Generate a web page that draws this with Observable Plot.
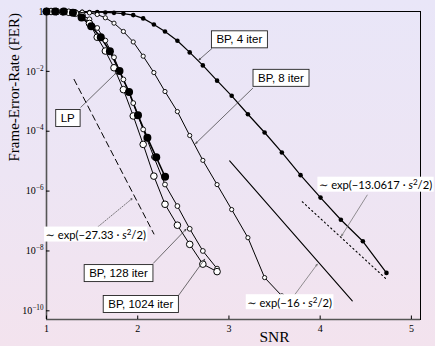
<!DOCTYPE html>
<html>
<head>
<meta charset="utf-8">
<script src="https://cdn.jsdelivr.net/npm/d3@7"></script>
<script src="https://cdn.jsdelivr.net/npm/@observablehq/plot@0.6"></script>
<style>
  html, body { margin:0; padding:0; }
  body { width:435px; height:346px; overflow:hidden;
    background: linear-gradient(180deg, #e9e6f8 0%, #ede5f4 50%, #f3e3ee 100%); }
  #chart svg { display:block; }
</style>
</head>
<body>
<div id="chart"></div>
<script>
// ---------- data (SNR, log10 of frame-error-rate) ----------
const snrBP = [1.0, 1.05, 1.11, 1.177, 1.244, 1.316, 1.391, 1.471, 1.556, 1.645, 1.74, 1.843, 1.951, 2.06, 2.177, 2.299, 2.435, 2.57, 2.714, 2.87, 3.03, 3.208, 3.391, 3.58, 3.785, 4.004, 4.227, 4.468, 4.727];
const snrLP = [1.0, 1.095, 1.19, 1.29, 1.385, 1.49, 1.595, 1.695, 1.8, 1.905, 2.003, 2.106, 2.203, 2.3];

const logFerLP     = [0, 0, 0, -0.04, -0.2, -0.49, -0.86, -1.33, -1.99, -2.69, -3.47, -4.22, -4.87, -5.52];
const logFerBP4    = [0, 0, 0, -0.002, -0.004, -0.007, -0.01, -0.015, -0.022, -0.032, -0.045, -0.07, -0.12, -0.23, -0.433, -0.667, -0.977, -1.367, -1.8, -2.31, -2.817, -3.433, -4.043, -4.71, -5.467, -6.217, -6.957, -7.677, -8.733];
const logFerBP8    = [0, 0, 0, -0.003, -0.006, -0.012, -0.022, -0.045, -0.1, -0.21, -0.39, -0.667, -1.017, -1.493, -2.04, -2.673, -3.343, -4.143, -4.973, -5.783, -6.617, -7.557, -8.89, -9.5];
const logFerBP128  = [0, 0, -0.003, -0.008, -0.02, -0.05, -0.12, -0.26, -0.55, -0.97, -1.53, -2.27, -3.06, -3.94, -4.86, -5.78, -6.5, -7.26, -8.0, -8.59];
const logFerBP1024 = [0, 0, -0.003, -0.01, -0.025, -0.06, -0.14, -0.4, -0.86, -1.32, -1.88, -2.61, -3.49, -4.44, -5.5, -6.44, -7.14, -7.78, -8.44, -8.69];

// asymptotic slope lines (end points)
const snrExp2733 = [1.302, 2.178];  const logExp2733 = [-2.267, -7.433];
const snrExp16   = [3.008, 4.352];  const logExp16   = [-4.99, -9.667];
const snrExp13   = [3.804, 4.735];  const logExp13   = [-6.357, -8.967];

const xTicks = [1, 2, 3, 4, 5];
const yTickExps = [0, -2, -4, -6, -8, -10];
const seriesLabels = ["BP, 4 iter", "BP, 8 iter", "LP", "BP, 128 iter", "BP, 1024 iter"];
const asymLabels = ["∼ exp(−27.33 · s²/2)", "∼ exp(−16 · s²/2)", "∼ exp(−13.0617 · s²/2)"];

// ---------- annotation placement (data coordinates) ----------
const boxPos = [
  {x: 3.114, y: -0.94,  x1: 2.811, y1: -1.243, x2: 2.671, y2: -1.617},
  {x: 3.57,  y: -2.227, x1: 3.26,  y1: -2.567, x2: 2.635, y2: -4.41},
  {x: 1.233, y: -3.567, x1: 1.376, y1: -3.2,   x2: 1.77,  y2: -2.033},
  {x: 1.789, y: -8.75,  x1: 2.172, y1: -8.41,  x2: 2.529, y2: -7.277},
  {x: 2.033, y: -9.783, x1: 2.452, y1: -9.467, x2: 2.734, y2: -8.277}
];
const asymPos = [
  {x: 1.54,  y: -7.483, x1: 1.521, y1: -7.3,   x2: 1.942, y2: -6.243},
  {x: 3.665, y: -9.743, x1: 3.712, y1: -9.5,   x2: 3.968, y2: -8.443},
  {x: 4.607, y: -5.817, x1: 4.516, y1: -6.133, x2: 4.234, y2: -7.5}
];

// ---------- build ----------
const P = (xs, ls) => xs.map((x, i) => ({x, y: Math.pow(10, ls[i])}));
const lp = P(snrLP, logFerLP), bp4 = P(snrBP, logFerBP4), bp8 = P(snrBP, logFerBP8),
      bp128 = P(snrBP, logFerBP128), bp1024 = P(snrBP, logFerBP1024);
const boxes = seriesLabels.map((t, i) => ({text: t, ...boxPos[i]}));
const asyms = asymLabels.map((t, i) => ({text: t, ...asymPos[i]}));
const E = v => Math.pow(10, v);
const yMin = E(-10.29);
const yTicks = yTickExps.map(E);

const plot = Plot.plot({
  width: 435, height: 346,
  marginLeft: 46, marginRight: 15, marginTop: 11, marginBottom: 27,
  style: {background: "transparent", fontFamily: "'Liberation Serif','Times New Roman',serif", color: "#000", overflow: "visible"},
  x: {domain: [1, 5.1]},
  y: {type: "log", domain: [yMin, 1]},
  marks: [
    Plot.frame({stroke: "#000", strokeWidth: 1}),
    Plot.ruleX([1], {stroke: "#555", strokeWidth: 1.6}),
    Plot.ruleY([yMin], {stroke: "#555", strokeWidth: 1.6}),
    Plot.axisY({ticks: yTicks, tickSize: 3.5, dx: 3.5, fill: "none", label: null}),
    Plot.axisY({ticks: yTicks, tickSize: 0, tickPadding: 3, fontSize: 10, label: null,
      tickFormat: d => d >= 1 ? "1" : "10^−" + Math.round(-Math.log10(d))}),
    Plot.axisX({ticks: xTicks, tickSize: 3.5, dy: -3.5, fill: "none", label: null}),
    Plot.axisX({ticks: xTicks, tickSize: 0, tickPadding: 5, fontSize: 10, label: null, tickFormat: d => String(d)}),

    // asymptote lines
    Plot.line(P(snrExp2733, logExp2733), {x: "x", y: "y", stroke: "#000", strokeWidth: 1, strokeDasharray: "6,4"}),
    Plot.line(P(snrExp16, logExp16), {x: "x", y: "y", stroke: "#000", strokeWidth: 1.1}),
    Plot.line(P(snrExp13, logExp13), {x: "x", y: "y", stroke: "#000", strokeWidth: 1.1, strokeDasharray: "1.3,3"}),

    // curves
    Plot.line(bp4, {x: "x", y: "y", stroke: "#000", strokeWidth: 1.2}),
    Plot.line(bp8, {x: "x", y: "y", stroke: "#000", strokeWidth: 1}),
    Plot.line(bp1024, {x: "x", y: "y", stroke: "#000", strokeWidth: 1}),
    Plot.line(bp128, {x: "x", y: "y", stroke: "#000", strokeWidth: 1}),
    Plot.line(lp, {x: "x", y: "y", stroke: "#000", strokeWidth: 1.6}),
    Plot.dot(bp4, {x: "x", y: "y", r: 2.3, fill: "#000", stroke: "none"}),
    Plot.dot(bp8, {x: "x", y: "y", r: 2.1, fill: "#fff", stroke: "#000", strokeWidth: 0.9}),
    Plot.dot(bp128, {x: "x", y: "y", r: 2.4, fill: "#fff", stroke: "#000", strokeWidth: 0.9}),
    Plot.dot(bp1024, {x: "x", y: "y", r: 3.3, fill: "#fff", stroke: "#000", strokeWidth: 1}),
    Plot.dot(lp, {x: "x", y: "y", r: 4, fill: "#000", stroke: "none"}),

    // annotation arrows
    Plot.arrow(boxes, {x1: "x1", y1: d => E(d.y1), x2: "x2", y2: d => E(d.y2), stroke: "#333", strokeWidth: 0.7, headLength: 4, headAngle: 45}),
    Plot.arrow(asyms.slice(0, 1), {x1: "x1", y1: d => E(d.y1), x2: "x2", y2: d => E(d.y2), stroke: "#444", strokeWidth: 0.7, strokeDasharray: "1.2,1.6", headLength: 4, headAngle: 45}),
    Plot.arrow(asyms.slice(1), {x1: "x1", y1: d => E(d.y1), x2: "x2", y2: d => E(d.y2), stroke: "#666", strokeWidth: 0.7, headLength: 4, headAngle: 45}),

    // annotation texts
    Plot.text(boxes, {x: "x", y: d => E(d.y), text: "text", fontFamily: "'Liberation Sans',Arial,sans-serif", fontSize: 11.5, fill: "#000"}),
    Plot.text(asyms, {x: "x", y: d => E(d.y), text: "text", fontFamily: "Lato,'DejaVu Sans',sans-serif", fontSize: 11.2, fill: "#000"}),

    // axis titles
    Plot.text(["SNR"], {frameAnchor: "bottom", dx: 41, dy: 22, lineAnchor: "bottom", fontSize: 15.5, fill: "#000"}),
    Plot.text(["Frame-Error-Rate (FER)"], {frameAnchor: "left", rotate: -90, dx: -32, dy: -4, fontSize: 15, fill: "#000"})
  ]
});

document.getElementById("chart").append(plot);
const svg = d3.select(plot);

// superscript exponents on y tick labels
svg.selectAll("text").each(function () {
  const t = this.textContent;
  const m = /^10\^(.+)$/.exec(t);
  if (!m) return;
  const s = d3.select(this);
  s.text(null);
  s.append("tspan").text("10");
  s.append("tspan").attr("dy", "-4").attr("font-size", "7.2").text(m[1]);
});

// italic s with superscript 2 in asymptote labels, boxes behind labels
svg.selectAll("text").each(function () {
  const t = this.textContent;
  const isBox = seriesLabels.includes(t);
  const isAsym = asymLabels.includes(t);
  if (!isBox && !isAsym) return;
  const s = d3.select(this);
  if (isAsym) {
    const i = t.indexOf("s²");
    s.text(null);
    s.append("tspan").text(t.slice(0, i));
    s.append("tspan").attr("font-style", "italic").text("s");
    s.append("tspan").attr("dy", "-4").attr("font-size", "8").text("2");
    s.append("tspan").attr("dy", "4").text(t.slice(i + 2));
  }
  const b = this.getBBox();
  const px = isBox ? 5 : 1.5, py = isBox ? 2.5 : 0.5;
  const node = this;
  d3.select(this.parentNode).insert("rect", () => node)
    .attr("x", b.x - px).attr("y", b.y - py)
    .attr("width", b.width + 2 * px).attr("height", b.height + 2 * py)
    .attr("transform", this.getAttribute("transform"))
    .attr("fill", "#fff")
    .attr("stroke", isBox ? "#222" : "none")
    .attr("stroke-width", 0.9);
});
</script>
</body>
</html>
